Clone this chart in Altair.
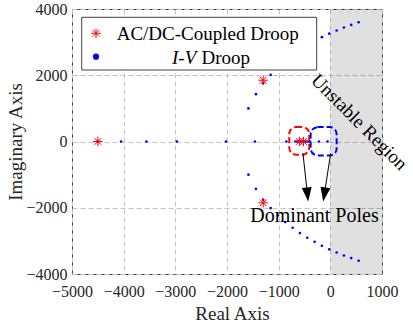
import altair as alt
import pandas as pd

# I-V droop poles on the real axis
iv_axis_re = [-4500, -4050, -3560, -2970, -2020, -1460, -850,
              -680, -645, -610, -575, -540, -505, -470, -435, -400,
              -220, -55]
# I-V droop complex branch (upper half; the lower half is its mirror)
branch_re = [-1585, -1440, -1300, -1155, -1014, -873, -730, -588,
             -447, -304, -163, -21, 122, 263, 404, 548]
branch_im = [1000, 1430, 1760, 2010, 2233, 2432, 2604, 2764,
             2906, 3026, 3150, 3255, 3350, 3440, 3520, 3600]
# AC/DC-coupled droop poles
acdc_re = [-4500, -1300, -1300, -600, -520]
acdc_im = [0, 1850, -1850, 0, 0]

# dominant-pole boxes: x, x2, y, y2
box_red = [-795, -408, -400, 440]
box_blue = [-381, 122, -422, 434]
# arrows: start x, start y, tip x, tip y
arrow_x0 = [-530, 6]
arrow_y0 = [-360, -360]
arrow_x1 = [-428, -137]
arrow_y1 = [-1810, -1810]
arrow_angle = [354, 9]

notes_text = ["Dominant Poles", "Unstable Region"]
notes_x = [-306, 560]
notes_y = [-2444, 585]

FONT = "Liberation Serif"
INK = "#262626"

iv = pd.DataFrame({
    "re": iv_axis_re + branch_re + branch_re,
    "im": [0] * len(iv_axis_re) + branch_im + [-v for v in branch_im],
})
acdc = pd.DataFrame({"re": acdc_re, "im": acdc_im})

xs = alt.Scale(domain=[-5000, 1000], nice=False, zero=False)
ys = alt.Scale(domain=[-4000, 4000], nice=False, zero=False)

xaxis = alt.Axis(values=list(range(-5000, 1001, 1000)), title="Real Axis", format="d",
                 grid=True, gridDash=[5, 3], gridColor="#c4c4c4", domain=False,
                 ticks=False, tickSize=0, labelPadding=9, titlePadding=5, titleX=160,
                 labelOverlap=False, labelFlush=False)
yaxis = alt.Axis(values=list(range(-4000, 4001, 1000)), title="Imaginary Axis", format="d",
                 grid=True, gridDash=[5, 3], gridColor="#c4c4c4", domain=False,
                 ticks=False, tickSize=0, labelPadding=5, titlePadding=0,
                 labelOverlap=False, labelFlush=False)

region = pd.DataFrame({"x": [0], "x2": [1000], "y": [-4000], "y2": [4000]})
unstable = alt.Chart(region).mark_rect(color="#000000", opacity=0.12).encode(
    x=alt.X("x:Q", scale=xs, axis=xaxis), x2="x2:Q",
    y=alt.Y("y:Q", scale=ys, axis=yaxis), y2="y2:Q")

iv_pts = alt.Chart(iv).mark_circle(color="#0000ff", size=7, opacity=1).encode(
    x=alt.X("re:Q", scale=xs), y=alt.Y("im:Q", scale=ys))

STAR = "M-1,0L1,0M0,-1L0,1M-0.7,-0.7L0.7,0.7M-0.7,0.7L0.7,-0.7"
acdc_pts = alt.Chart(acdc).mark_point(shape=STAR, filled=False, stroke="#ff0000",
                                      strokeWidth=1, size=90, opacity=1).encode(
    x=alt.X("re:Q", scale=xs), y=alt.Y("im:Q", scale=ys))


def dashed_box(b, color):
    df = pd.DataFrame({"x": [b[0]], "x2": [b[1]], "y": [b[2]], "y2": [b[3]]})
    return alt.Chart(df).mark_rect(fillOpacity=0, stroke=color, strokeWidth=2,
                                   strokeDash=[6, 3], cornerRadius=7).encode(
        x=alt.X("x:Q", scale=xs), x2="x2:Q", y=alt.Y("y:Q", scale=ys), y2="y2:Q")


f = 0.145
arrows = pd.DataFrame({
    "x0": arrow_x0, "y0": arrow_y0,
    "hx": [x1 - f * (x1 - x0) for x0, x1 in zip(arrow_x0, arrow_x1)],
    "hy": [y1 - f * (y1 - y0) for y0, y1 in zip(arrow_y0, arrow_y1)],
    "ang": arrow_angle,
})
arrow_lines = alt.Chart(arrows).mark_rule(color="black", strokeWidth=1).encode(
    x=alt.X("x0:Q", scale=xs), y=alt.Y("y0:Q", scale=ys), x2="hx:Q", y2="hy:Q")
HEAD = "M-0.7,-1L0.7,-1L0,1Z"
arrow_heads = alt.Chart(arrows).mark_point(shape=HEAD, filled=True, color="black",
                                           size=200, opacity=1).encode(
    x=alt.X("hx:Q", scale=xs), y=alt.Y("hy:Q", scale=ys),
    angle=alt.Angle("ang:Q", scale=None))

notes = pd.DataFrame({"t": notes_text, "x": notes_x, "y": notes_y})
note_dom = alt.Chart(notes.iloc[[0]]).mark_text(
    font=FONT, fontSize=20, color="black", align="center", baseline="alphabetic").encode(
    x=alt.X("x:Q", scale=xs), y=alt.Y("y:Q", scale=ys), text="t:N")
note_unst = alt.Chart(notes.iloc[[1]]).mark_text(
    font=FONT, fontSize=19, color="black", align="center", baseline="middle",
    angle=45).encode(
    x=alt.X("x:Q", scale=xs), y=alt.Y("y:Q", scale=ys), text="t:N")

# legend box drawn in plot pixel space
one = pd.DataFrame({"k": [0]})
leg_box = alt.Chart(one).mark_rect(fill="white", stroke="#404040", strokeWidth=1).encode(
    x=alt.value(9.7), x2=alt.value(244.7), y=alt.value(8.3), y2=alt.value(61))
leg_star = alt.Chart(one).mark_point(shape=STAR, filled=False, stroke="#ff0000",
                                     strokeWidth=1, size=90, opacity=1).encode(
    x=alt.value(24), y=alt.value(24.3))
leg_dot = alt.Chart(one).mark_circle(color="#0000ff", size=38, opacity=1).encode(
    x=alt.value(24), y=alt.value(47.7))
leg_t1 = alt.Chart(one).mark_text(font=FONT, fontSize=19, color="black", align="left",
                                  baseline="alphabetic", text="AC/DC-Coupled Droop").encode(
    x=alt.value(44.7), y=alt.value(31))
leg_t2a = alt.Chart(one).mark_text(font=FONT, fontSize=19, fontStyle="italic", color="black",
                                   align="left", baseline="alphabetic", text="I-V").encode(
    x=alt.value(100), y=alt.value(54.5))
leg_t2b = alt.Chart(one).mark_text(font=FONT, fontSize=19, color="black", align="left",
                                   baseline="alphabetic", text="Droop").encode(
    x=alt.value(129.5), y=alt.value(54.5))

chart = alt.layer(
    unstable, iv_pts, acdc_pts,
    dashed_box(box_red, "#ff0000"), dashed_box(box_blue, "#0000ff"),
    arrow_lines, arrow_heads, note_dom, note_unst,
    leg_box, leg_star, leg_dot, leg_t1, leg_t2a, leg_t2b,
).properties(
    width=310, height=265,
    autosize=alt.AutoSizeParams(type="none"),
    padding={"left": 72, "top": 9, "right": 31, "bottom": 59},
    background="white",
).configure_view(
    stroke="#404040", strokeWidth=1
).configure_axis(
    labelFont=FONT, labelFontSize=16, labelColor=INK,
    titleFont=FONT, titleFontSize=19, titleFontWeight="normal", titleColor=INK,
)

chart.save("out.html", embed_options={"renderer": "svg", "actions": False})
